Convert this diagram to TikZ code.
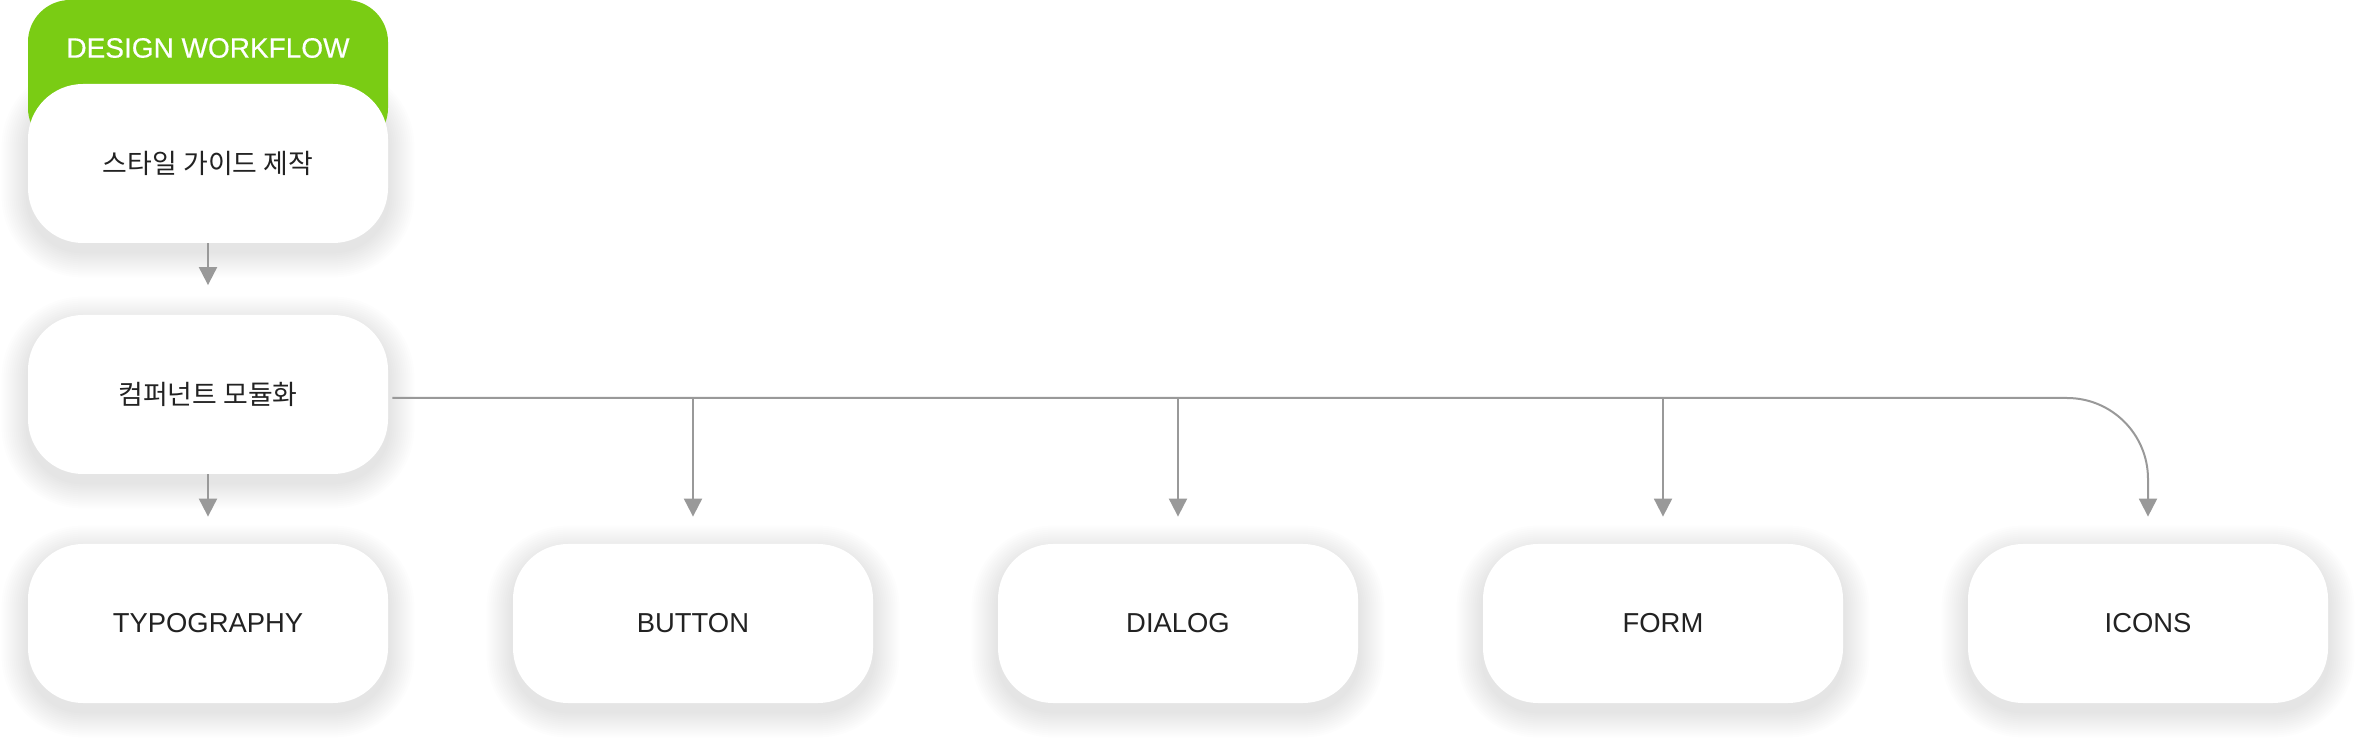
\documentclass[tikz,border=0pt]{standalone}
\usepackage{fontspec}
\setmainfont{Liberation Sans}
\newfontfamily\kr{Noto Sans CJK KR}
\newfontfamily\titlefont[FakeBold=0.4]{Liberation Sans}
\usetikzlibrary{arrows.meta,backgrounds}
\definecolor{wfgreen}{RGB}{122,204,20}
\definecolor{linegray}{RGB}{153,153,153}
\definecolor{txt}{RGB}{34,34,34}
\tikzset{
  card/.style={draw=none, fill=white, rounded corners=27.5pt, minimum width=180pt,
    minimum height=79.5pt, inner sep=0pt, text=txt, font=\fontsize{13.7}{16}\selectfont},
  krtext/.style={font=\kr\fontsize{13.45}{16}\selectfont},
  shadowlayer/.style={fill=black, opacity=0.0065},
  conn/.style={draw=linegray, line width=1pt},
  arr/.style={conn, -{Triangle[width=9pt,length=9pt]}},
}
\begin{document}
\begin{tikzpicture}[x=0.5pt,y=-0.5pt]
  \useasboundingbox (0,0) rectangle (2356,742);
  % header group
  \fill[wfgreen, rounded corners=21pt] (28,150) -- (28,0) -- (388,0) -- (388,150) -- cycle;
  \node[text=white, font=\titlefont\fontsize{14}{16}\selectfont] (title) at (208,48) {DESIGN WORKFLOW};
  \node[card, krtext] (b1) at (208,163.5) {스타일 가이드 제작};
  \node[card, krtext] (b2) at (208,394.5) {컴퍼넌트 모듈화};
  % bottom row
  \node[card] (t1) at (208,623.5) {TYPOGRAPHY};
  \node[card] (t2) at (693,623.5) {BUTTON};
  \node[card] (t3) at (1178,623.5) {DIALOG};
  \node[card] (t4) at (1663,623.5) {FORM};
  \node[card] (t5) at (2148,623.5) {ICONS};
  % soft shadows
  \begin{scope}[on background layer]
    \fill[white] (0,0) rectangle (2356,742);
    \foreach \n in {b1,b2,t1,t2,t3,t4,t5}{
      \foreach \i in {1,...,13}{
        \fill[shadowlayer, rounded corners={(27.5+\i)*1pt}]
          ([shift={(-\i pt,{-\i pt-4pt})}]\n.south west) rectangle
          ([shift={(\i pt,{\i pt-4pt})}]\n.north east);
      }
    }
  \end{scope}
  % connectors
  \coordinate (hub) at ([xshift=2pt,yshift=-1.75pt]b2.east);
  \draw[arr] (b1.south) -- ([yshift=14.75pt]b2.north);
  \draw[arr] (b2.south) -- ([yshift=13.5pt]t1.north);
  \draw[arr, rounded corners=40.5pt] (hub) -| ([yshift=13.5pt]t5.north);
  \draw[arr] (hub -| t2) -- ([yshift=13.5pt]t2.north);
  \draw[arr] (hub -| t3) -- ([yshift=13.5pt]t3.north);
  \draw[arr] (hub -| t4) -- ([yshift=13.5pt]t4.north);
\end{tikzpicture}
\end{document}
